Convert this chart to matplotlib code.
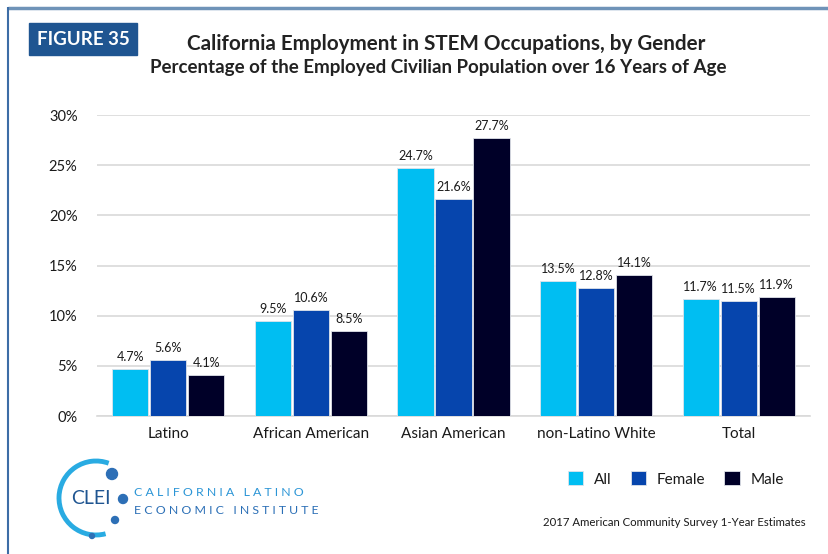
import numpy as np
import matplotlib
matplotlib.use("Agg")
import matplotlib.pyplot as plt
from matplotlib.patches import Rectangle, Arc, Circle

plt.rcParams['font.family'] = ['Lato', 'DejaVu Sans']

categories = ["Latino", "African American", "Asian American", "non-Latino White", "Total"]
series_names = ["All", "Female", "Male"]
all_vals = [4.7, 9.5, 24.7, 13.5, 11.7]
female_vals = [5.6, 10.6, 21.6, 12.8, 11.5]
male_vals = [4.1, 8.5, 27.7, 14.1, 11.9]
yticks = [0, 5, 10, 15, 20, 25, 30]

colors = ["#00bef2", "#0645ad", "#000028"]
text_dark = "#1a1a1a"

W, H = 829, 554
fig = plt.figure(figsize=(W / 100, H / 100), dpi=100)

def fx(px):
    return px / W

def fy(py):
    return 1 - py / H

# frame lines
frame = fig.add_axes([0, 0, 1, 1])
frame.set_xlim(0, W)
frame.set_ylim(H, 0)
frame.axis("off")
frame.plot([8, W], [7.5, 7.5], color="#6f93b8", lw=2.5, solid_capstyle="butt")
frame.plot([8.5, 8.5], [7, H], color="#3d6da6", lw=1.5, solid_capstyle="butt")

# figure badge
frame.add_patch(Rectangle((29, 23), 108, 32, color="#1f5591"))
frame.text(83, 39.5, "FIGURE 35", color="white", fontsize=13.5, fontweight="bold",
           ha="center", va="center")

# titles
frame.text(446, 44, "California Employment in STEM Occupations, by Gender",
           fontsize=14.9, fontweight="bold", color="#222222", ha="center", va="center")
frame.text(438, 67, "Percentage of the Employed Civilian Population over 16 Years of Age",
           fontsize=13.5, fontweight="bold", color="#222222", ha="center", va="center")

# main bar chart
left, right, bottom, top = 97, 810, 416, 115
ax = fig.add_axes([fx(left), fy(bottom), fx(right) - fx(left), fy(top) - fy(bottom)])
x = np.arange(len(categories))
step = 0.267
width = 0.254
for i, (vals, col) in enumerate(zip([all_vals, female_vals, male_vals], colors)):
    pos = x + (i - 1) * step
    bars = ax.bar(pos, vals, width=width, color=col, edgecolor="#dfe3ea", linewidth=0.6,
                  zorder=3, label=series_names[i])
    for b, v in zip(bars, vals):
        ax.text(b.get_x() + b.get_width() / 2, v + 0.6, f"{v:.1f}%", ha="center",
                va="bottom", fontsize=9, color=text_dark)

ax.set_xlim(-0.5, len(categories) - 0.5)
ax.set_ylim(0, 30)
ax.set_yticks(yticks)
ax.set_yticklabels([f"{t}%" for t in yticks], fontsize=10.5, color=text_dark)
ax.set_xticks(x)
ax.set_xticklabels(categories, fontsize=11, color=text_dark)
ax.tick_params(axis="both", length=0)
ax.tick_params(axis="y", pad=14)
ax.tick_params(axis="x", pad=8)
ax.grid(axis="y", color="#d9d9d9", linewidth=1.2, zorder=0)
for s in ["top", "right", "left"]:
    ax.spines[s].set_visible(False)
ax.spines["bottom"].set_color("#d9d9d9")
ax.spines["bottom"].set_linewidth(1.2)

# legend, anchored below the plot area
leg = ax.legend(loc="center left",
                bbox_to_anchor=((562 - left) / (right - left), (bottom - 479) / (bottom - top)),
                ncol=3, frameon=False, fontsize=11, handlelength=1.0, handleheight=1.0,
                columnspacing=1.25, handletextpad=0.7, borderaxespad=0)
for t in leg.get_texts():
    t.set_color(text_dark)

# source note
frame.text(806, 523, "2017 American Community Survey 1-Year Estimates", fontsize=8.2,
           color=text_dark, ha="right", va="center")

# organisation logo
cx, cy, r = 96, 498, 37
frame.add_patch(Arc((cx, cy), 2 * r, 2 * r, theta1=75, theta2=290,
                    color="#29abe2", lw=3.5))
for (dx, dy, rad, col) in [(112, 474, 5.5, "#2d6fb6"), (123, 499, 4.5, "#2d6fb6"),
                           (115, 520, 3.5, "#2d6fb6"), (92, 536, 2.5, "#2d6fb6")]:
    frame.add_patch(Circle((dx, dy), rad, color=col))
frame.text(91, 498, "CLEI", fontsize=14, color="#1f5591", ha="center", va="center")
frame.text(134, 492, "C A L I F O R N I A   L A T I N O", fontsize=8.9, color="#2b95d6",
           ha="left", va="center")
frame.text(134, 511, "E C O N O M I C   I N S T I T U T E", fontsize=8.9, color="#2b6fb6",
           ha="left", va="center")

fig.savefig("out.png", dpi=100)
